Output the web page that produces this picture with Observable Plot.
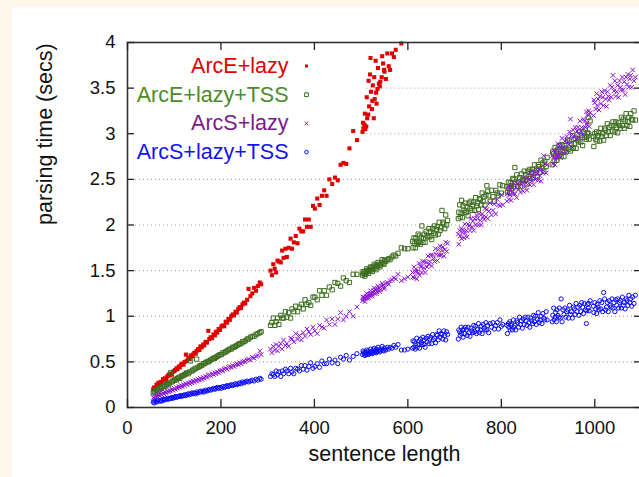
<!DOCTYPE html>
<html>
<head>
<meta charset="utf-8">
<script src="https://cdn.jsdelivr.net/npm/d3@7"></script>
<script src="https://cdn.jsdelivr.net/npm/@observablehq/plot@0.6"></script>
<style>
  html, body { margin: 0; padding: 0; background: #fdf8ec; overflow: hidden; width: 639px; height: 477px; }
  #panel { position: absolute; left: 12px; top: 7px; right: 0; bottom: 0; background: #ffffff; }
  #chart { position: absolute; left: 0; top: 0; width: 643px; height: 477px; }
</style>
</head>
<body>
<div id="panel"></div>
<div id="chart"></div>
<script>
// ---- data (sentence length vs parsing time in seconds) ----
const seriesNames = ["ArcE+lazy", "ArcE+lazy+TSS", "ArcS+lazy", "ArcS+lazy+TSS"];
const xTicks = [0, 200, 400, 600, 800, 1000];
const yTicks = [0, 0.5, 1, 1.5, 2, 2.5, 3, 3.5, 4];

const lengths = [
  55,57,59,62,64,66,69,71,73,76, 78,80,83,85,88,90,92,95,97,100,
  102,105,107,110,112,115,117,120,122,125, 127,130,133,135,138,140,143,146,148,151,
  154,156,159,162,164,167,170,173,175,178, 181,184,187,189,192,195,198,201,204,207,
  210,213,216,219,222,225,228,231,234,237, 240,243,246,249,252,256,259,263,267,271,
  275,279,283,286,
  306,309,312,315,318,321,324,328,331,334, 338,341,345,349,352,356,360,364,368,372,
  376,380,384,388,392,397,401,406,411,416, 421,426,432,438,444,450,456,462,468,475,
  483,491,
  503,505,507,509,511,513,515,517,519,521, 523,525,527,529,531,533,535,538,541,544,
  547,550,553,556,559,562,566,570,574,579, 504,508,512,516,520,524,528,532,536,540,
  545,549,586,593,600,
  610,611,613,614,616,617,619,620,622,624, 625,627,629,630,632,634,635,637,639,641,
  643,645,647,649,651,653,655,657,659,661, 663,665,667,669,671,673,675,677,679,681,
  683,685,
  708,709,711,712,714,715,717,718,720,722, 723,725,727,729,731,733,735,737,739,741,
  743,745,747,749,751,753,755,757,759,761, 763,765,767,769,771,773,776,779,782,785,
  788,791,794,797,800,803,
  812,813,815,816,818,819,821,822,824,826, 827,829,831,833,835,837,839,841,843,845,
  847,849,851,853,855,857,859,861,863,865, 867,869,871,873,875,877,879,881,883,885,
  887,889,891,893,896,898,
  909,910,912,913,915,916,918,919,921,923, 924,926,928,930,932,934,936,938,940,942,
  944,946,948,950,952,954,956,958,960,962, 964,966,968,970,972,974,976,978,980,982,
  984,986,988,990,983,987,
  997,998,1000,1002,1004,1005,1007,1009,1011,1013, 1015,1017,1019,1021,1023,1025,1027,1029,1031,1033,
  1035,1037,1039,1041,1043,1045,1047,1049,1051,1053, 1055,1057,1059,1061,1063,1065,1067,1069,1071,1073,
  1075,1077,1079,1081,1084,1087
];

// ArcE+lazy: longer sentences take more than 4 s and fall off the chart
const arcE = [
  0.20,0.22,0.21,0.25,0.24,0.27,0.26,0.28,0.27,0.31, 0.30,0.32,0.31,0.34,0.36,0.35,0.37,0.36,0.39,0.40,
  0.41,0.43,0.42,0.45,0.44,0.47,0.48,0.47,0.50,0.58, 0.51,0.54,0.53,0.57,0.56,0.58,0.60,0.59,0.62,0.64,
  0.63,0.67,0.66,0.69,0.68,0.72,0.71,0.84,0.75,0.77, 0.76,0.80,0.79,0.83,0.82,0.86,0.85,0.89,0.90,0.89,
  0.94,0.93,0.97,0.96,1.00,1.02,1.01,1.05,1.04,1.08, 1.10,1.09,1.13,1.15,1.14,1.18,1.30,1.22,1.25,1.31,
  1.28,1.33,1.37,1.35,
  1.50,1.45,1.57,1.52,1.48,1.61,1.60,1.59,1.72,1.64, 1.74,1.65,1.75,1.85,1.74,1.81,1.88,1.80,1.96,1.93,
  1.93,2.06,1.98,2.06,1.98,2.21,2.18,2.29,2.22,2.32, 2.38,2.32,2.50,2.45,2.52,2.49,2.66,2.68,2.67,2.84,
  3.03,2.93,
  3.02,3.06,3.10,3.05,3.08,3.17,3.21,3.30,3.65,3.46, 3.27,3.53,3.17,3.38,3.80,3.33,3.49,3.55,3.57,3.62,
  3.77,3.68,3.60,3.88,3.74,3.70,3.88,3.84,3.92,null, 3.12,3.22,3.40,3.58,3.83,3.36,3.62,3.45,3.72,3.52,
  3.85,3.70,3.99
];

const arcETSS = [
  0.16,0.18,0.17,0.19,0.20,0.19,0.21,0.22,0.21,0.23, 0.24,0.23,0.25,0.26,0.25,0.27,0.38,0.28,0.29,0.30,
  0.31,0.30,0.32,0.33,0.32,0.34,0.35,0.35,0.36,0.37, 0.38,0.37,0.39,0.51,0.40,0.41,0.42,0.43,0.53,0.44,
  0.45,0.46,0.46,0.48,0.48,0.49,0.50,0.50,0.51,0.52, 0.53,0.54,0.54,0.55,0.56,0.57,0.58,0.58,0.60,0.60,
  0.61,0.62,0.63,0.64,0.64,0.66,0.66,0.67,0.68,0.69, 0.70,0.70,0.72,0.72,0.73,0.75,0.75,0.77,0.78,0.78,
  0.80,0.81,0.82,0.83,
  0.90,0.93,0.98,0.90,0.94,0.98,0.91,1.01,0.98,0.98, 1.05,0.99,1.04,0.98,1.08,1.05,1.11,1.05,1.10,1.13,
  1.08,1.18,1.13,1.15,1.12,1.21,1.21,1.18,1.28,1.23, 1.28,1.23,1.32,1.29,1.37,1.36,1.33,1.42,1.39,1.37,
  1.46,1.46,
  1.45,1.47,1.49,1.46,1.48,1.50,1.49,1.51,1.50,1.53, 1.51,1.54,1.52,1.55,1.53,1.56,1.55,1.57,1.56,1.59,
  1.58,1.61,1.60,1.62,1.63,1.62,1.65,1.67,1.66,1.69, 1.49,1.44,1.52,1.47,1.54,1.49,1.57,1.51,1.59,1.54,
  1.62,1.57,1.75,1.74,1.74,
  1.82,1.75,1.86,1.80,1.75,1.85,1.82,1.79,1.90,1.81, 1.88,1.79,1.86,1.99,1.81,1.85,1.90,1.81,1.93,1.88,
  1.87,1.96,1.87,1.93,1.84,1.96,1.91,1.99,1.89,1.95, 1.98,1.90,2.03,1.94,1.97,2.16,2.03,2.01,1.96,2.11,
  2.00,2.05,
  2.07,2.14,2.22,2.09,2.13,2.27,2.08,2.21,2.16,2.14, 2.24,2.14,2.20,2.10,2.24,2.18,2.26,2.16,2.22,2.25,
  2.16,2.30,2.21,2.24,2.17,2.29,2.28,2.22,2.35,2.26, 2.31,2.22,2.33,2.43,2.37,2.32,2.26,2.38,2.31,2.26,
  2.38,2.35,2.32,2.44,2.35,2.43,
  2.42,2.36,2.47,2.40,2.35,2.46,2.43,2.40,2.51,2.42, 2.50,2.63,2.47,2.55,2.42,2.47,2.52,2.42,2.56,2.50,
  2.49,2.59,2.49,2.55,2.45,2.59,2.53,2.61,2.51,2.58, 2.61,2.52,2.66,2.57,2.60,2.53,2.66,2.64,2.58,2.71,
  2.62,2.68,2.59,2.70,2.64,2.74,
  2.66,2.80,2.78,2.71,2.85,2.75,2.81,2.71,2.83,2.76, 2.87,2.82,2.75,2.88,2.81,2.75,2.87,2.84,2.81,2.93,
  2.83,2.92,2.81,2.89,2.98,2.84,2.89,2.95,2.84,2.99, 2.93,2.91,3.02,2.91,2.98,2.87,3.02,2.96,3.05,2.94,
  3.01,3.18,2.94,3.14,2.97,3.00,
  2.97,2.86,3.00,2.94,3.02,2.92,2.98,3.01,2.92,3.06, 2.97,3.00,2.93,3.06,3.04,2.98,3.11,3.02,3.07,2.98,
  3.09,3.03,3.13,3.09,3.02,3.13,3.07,3.01,3.12,3.09, 3.06,3.18,3.09,3.16,3.06,3.14,3.22,3.09,3.13,3.18,
  3.08,3.22,3.16,3.15,3.25,3.15
];

const arcS = [
  0.11,0.10,0.12,0.13,0.12,0.14,0.13,0.15,0.14,0.16, 0.15,0.17,0.16,0.18,0.17,0.19,0.18,0.20,0.19,0.21,
  0.20,0.22,0.21,0.23,0.22,0.24,0.23,0.25,0.24,0.26, 0.25,0.27,0.26,0.28,0.27,0.29,0.28,0.30,0.29,0.31,
  0.30,0.32,0.31,0.33,0.32,0.34,0.33,0.35,0.36,0.35, 0.37,0.36,0.38,0.37,0.39,0.38,0.40,0.41,0.40,0.42,
  0.43,0.42,0.44,0.45,0.44,0.46,0.45,0.47,0.48,0.47, 0.49,0.48,0.50,0.51,0.50,0.52,0.53,0.52,0.55,0.54,
  0.56,0.57,0.62,0.58,
  0.64,0.60,0.67,0.63,0.69,0.62,0.67,0.70,0.64,0.74, 0.68,0.70,0.67,0.76,0.75,0.72,0.81,0.75,0.79,0.74,
  0.82,0.78,0.86,0.83,0.80,0.88,0.84,0.81,0.90,0.88, 0.87,0.96,0.91,0.97,0.91,0.97,1.04,0.96,1.00,1.05,
  1.00,1.10,
  1.17,1.19,1.21,1.19,1.22,1.20,1.23,1.24,1.22,1.25, 1.24,1.26,1.28,1.25,1.29,1.27,1.30,1.31,1.29,1.33,
  1.34,1.32,1.36,1.37,1.35,1.39,1.40,1.42,1.41,1.46, 1.21,1.16,1.25,1.20,1.28,1.22,1.31,1.25,1.33,1.27,
  1.36,1.30,1.39,1.41,1.43,
  1.48,1.43,1.54,1.42,1.49,1.52,1.41,1.49,1.47,1.58, 1.45,1.55,1.54,1.48,1.60,1.53,1.60,1.48,1.59,1.54,
  1.66,1.57,1.60,1.67,1.55,1.67,1.63,1.60,1.74,1.68, 1.61,1.73,1.67,1.77,1.67,1.72,1.76,1.66,1.73,1.81,
  1.71,1.80,
  1.90,1.79,1.94,1.88,1.96,1.85,1.92,1.95,1.86,2.01, 1.91,1.94,1.87,2.01,1.99,1.94,2.07,1.98,2.04,1.94,
  2.07,2.00,2.11,2.07,2.00,2.12,2.05,2.00,2.12,2.09, 2.06,2.18,2.09,2.17,2.07,2.15,2.24,2.11,2.16,2.23,
  2.12,2.28,2.22,2.21,2.33,2.22,
  2.26,2.34,2.42,2.28,2.33,2.38,2.27,2.42,2.36,2.34, 2.45,2.34,2.41,2.30,2.45,2.39,2.47,2.36,2.44,2.47,
  2.37,2.52,2.42,2.46,2.38,2.52,2.50,2.44,2.58,2.48, 2.54,2.44,2.57,2.50,2.61,2.56,2.49,2.61,2.54,2.48,
  2.61,2.57,2.76,2.67,2.57,2.66,
  2.76,2.67,2.82,2.73,2.66,2.81,2.77,2.73,2.89,2.77, 2.87,2.74,2.84,2.95,2.79,2.85,2.92,2.79,2.97,2.91,
  2.88,3.02,3.16,2.98,2.85,3.04,2.97,3.07,2.94,3.03, 3.07,2.96,3.14,3.03,3.07,2.99,3.16,3.14,3.07,3.24,
  3.12,3.20,3.08,3.23,3.10,3.25,
  3.20,3.37,3.34,3.27,3.44,3.31,3.38,3.26,3.41,3.33, 3.46,3.40,3.31,3.47,3.38,3.30,3.46,3.41,3.37,3.53,
  3.40,3.51,3.64,3.47,3.58,3.41,3.46,3.53,3.40,3.58, 3.51,3.48,3.62,3.48,3.57,3.43,3.62,3.54,3.65,3.51,
  3.60,3.64,3.51,3.70,3.58,3.62
];

const arcSTSS = [
  0.06,0.05,0.07,0.06,0.07,0.08,0.07,0.08,0.07,0.09, 0.08,0.09,0.09,0.10,0.09,0.10,0.10,0.11,0.10,0.11,
  0.12,0.11,0.12,0.12,0.13,0.12,0.13,0.13,0.14,0.13, 0.14,0.15,0.14,0.15,0.16,0.15,0.16,0.15,0.17,0.16,
  0.17,0.18,0.17,0.18,0.17,0.19,0.18,0.19,0.20,0.19, 0.20,0.21,0.20,0.21,0.22,0.21,0.22,0.21,0.23,0.22,
  0.23,0.24,0.23,0.24,0.25,0.24,0.25,0.26,0.25,0.26, 0.27,0.26,0.28,0.27,0.28,0.29,0.28,0.29,0.30,0.29,
  0.31,0.30,0.32,0.31,
  0.34,0.37,0.36,0.34,0.40,0.36,0.39,0.34,0.40,0.37, 0.42,0.40,0.37,0.43,0.39,0.37,0.43,0.42,0.40,0.46,
  0.42,0.46,0.41,0.45,0.49,0.43,0.45,0.48,0.44,0.51, 0.48,0.48,0.53,0.49,0.52,0.48,0.55,0.53,0.57,0.52,
  0.56,0.59,
  0.58,0.60,0.59,0.61,0.58,0.60,0.62,0.59,0.61,0.60, 0.62,0.60,0.63,0.61,0.62,0.64,0.61,0.63,0.62,0.64,
  0.63,0.65,0.63,0.66,0.64,0.66,0.65,0.68,0.66,0.69, 0.62,0.57,0.63,0.58,0.64,0.59,0.65,0.60,0.66,0.61,
  0.67,0.62,0.63,0.63,0.64,
  0.65,0.73,0.66,0.72,0.64,0.70,0.76,0.66,0.69,0.73, 0.65,0.75,0.71,0.69,0.77,0.69,0.74,0.66,0.76,0.72,
  0.78,0.70,0.75,0.77,0.70,0.80,0.74,0.76,0.71,0.80, 0.79,0.74,0.84,0.77,0.81,0.80,0.75,0.84,0.79,0.74,
  0.83,0.80,
  0.75,0.85,0.83,0.79,0.88,0.81,0.85,0.77,0.86,0.81, 0.88,0.85,0.79,0.88,0.82,0.78,0.87,0.84,0.82,0.90,
  0.83,0.89,0.81,0.86,0.92,0.82,0.85,0.89,0.81,0.91, 0.87,0.85,0.93,0.85,0.90,0.82,0.92,0.88,0.93,0.86,
  0.90,0.93,0.86,0.96,0.89,0.91,
  0.90,0.81,0.92,0.88,0.94,0.85,0.90,0.92,0.85,0.96, 0.88,0.90,0.85,0.95,0.93,0.88,0.99,0.91,0.95,0.87,
  0.97,0.91,0.99,0.95,0.90,0.99,0.93,0.88,0.98,0.95, 0.92,1.01,0.94,1.00,0.91,0.97,1.04,0.93,0.96,1.00,
  0.92,1.03,0.98,0.96,1.05,0.96,
  0.94,1.01,1.09,0.96,0.99,1.04,0.94,1.07,1.01,0.99, 1.09,0.98,1.19,0.94,1.07,1.02,1.09,0.99,1.05,1.07,
  0.98,1.12,1.02,1.05,0.98,1.10,1.08,1.02,1.14,1.05, 1.10,1.01,1.12,1.05,1.15,1.10,1.03,1.14,1.07,0.92,
  1.13,1.09,1.06,1.17,1.06,1.14,
  1.11,1.04,1.15,1.08,1.03,1.13,1.10,1.07,1.17,1.08, 1.15,1.05,1.26,1.19,1.07,1.10,1.15,1.05,1.17,1.12,
  1.10,1.19,1.09,1.15,1.05,1.18,1.12,1.19,1.09,1.15, 1.17,1.09,1.21,1.12,1.15,1.08,1.19,1.17,1.12,1.23,
  1.15,1.19,1.11,1.21,1.14,1.23
];

// ---- styling ----
const pointColors = ["#e00000", "#3d6e1f", "#8a12d6", "#0a0aff"];
const textColors  = ["#e00000", "#4b8b2b", "#7a1a8c", "#1414f0"];
const font = "'Liberation Sans', Arial, Helvetica, sans-serif";

const W = 643, H = 477, mL = 127, mT = 42, mR = 2, mB = 70;
const xMax = 1100, yMax = 4;
const xpp = xMax / (W - mL - mR);   // data units per pixel
const ypp = yMax / (H - mT - mB);

const toPts = vals => vals.map((v, i) => ({x: lengths[i], y: v})).filter(d => d.y != null && d.x != null);
const sets = [arcE, arcETSS, arcS, arcSTSS].map(toPts);

const gridFull = [0.5, 1, 1.5, 2, 2.5];
const gridPart = [3, 3.5];     // partly hidden behind the key box
const keyRight = 512;          // key box right edge in data units

const legendMarks = [];
const rowY = [65.5, 94.2, 122.9, 151.6];
const symbolsKey = [
  {symbol: "square", fill: pointColors[0], r: 1.7},
  {symbol: "square", fill: "none", stroke: pointColors[1], strokeWidth: 1, r: 2.1},
  {symbol: "times", stroke: pointColors[2], strokeWidth: 1, r: 1.8},
  {symbol: "circle", fill: "none", stroke: pointColors[3], strokeWidth: 1, r: 1.8}
];
seriesNames.forEach((name, i) => {
  legendMarks.push(Plot.text([name], {
    frameAnchor: "top-left", dx: 161, dy: rowY[i] - mT, text: d => d,
    textAnchor: "end", lineAnchor: "middle", fontSize: 21.5, fill: textColors[i]
  }));
  legendMarks.push(Plot.dot([0], {frameAnchor: "top-left", dx: 179, dy: rowY[i] - mT, ...symbolsKey[i]}));
});

const tickStroke = {stroke: "#222", strokeWidth: 1.3};

const chart = Plot.plot({
  width: W, height: H,
  marginLeft: mL, marginTop: mT, marginRight: mR, marginBottom: mB,
  x: {domain: [0, xMax]},
  y: {domain: [0, yMax]},
  style: {background: "none", maxWidth: "none", fontFamily: font, color: "#111", overflow: "visible"},
  marks: [
    Plot.ruleY(gridFull, {y: d => d, stroke: "#9c9c9c", strokeWidth: 1, strokeDasharray: "1,3"}),
    Plot.ruleY(gridPart, {y: d => d, x1: keyRight, x2: xMax, stroke: "#9c9c9c", strokeWidth: 1, strokeDasharray: "1,3"}),
    Plot.dot(sets[0], {x: "x", y: "y", symbol: "square", fill: pointColors[0], r: 2.3}),
    Plot.dot(sets[1], {x: "x", y: "y", symbol: "square", fill: "none", stroke: pointColors[1], strokeWidth: 1, r: 2.4}),
    Plot.dot(sets[2], {x: "x", y: "y", symbol: "times", stroke: pointColors[2], strokeWidth: 1, r: 2.2}),
    Plot.dot(sets[3], {x: "x", y: "y", symbol: "circle", fill: "none", stroke: pointColors[3], strokeWidth: 1, r: 2.1}),
    Plot.frame({stroke: "#333", strokeWidth: 1.6}),
    Plot.ruleX(xTicks, {x: d => d, y1: 0, y2: 8 * ypp, ...tickStroke}),
    Plot.ruleX(xTicks, {x: d => d, y1: yMax, y2: yMax - 8 * ypp, ...tickStroke}),
    Plot.ruleY(yTicks, {y: d => d, x1: 0, x2: 7 * xpp, ...tickStroke}),
    Plot.ruleY(yTicks, {y: d => d, x1: xMax, x2: xMax - 7 * xpp, ...tickStroke}),
    Plot.axisX({ticks: xTicks, tickSize: 0, tickPadding: 13, tickFormat: d => String(d), fontSize: 18.5, label: null}),
    Plot.axisY({ticks: yTicks, tickSize: 0, tickPadding: 12, tickFormat: d => String(d), fontSize: 18.5, label: null}),
    Plot.text(["sentence length"], {frameAnchor: "bottom", dy: 47, text: d => d, fontSize: 21.5, lineAnchor: "middle"}),
    Plot.text(["parsing time (secs)"], {frameAnchor: "left", dx: -82, rotate: -90, text: d => d, fontSize: 21.5, lineAnchor: "middle"}),
    ...legendMarks
  ]
});
document.getElementById("chart").appendChild(chart);
</script>
</body>
</html>
